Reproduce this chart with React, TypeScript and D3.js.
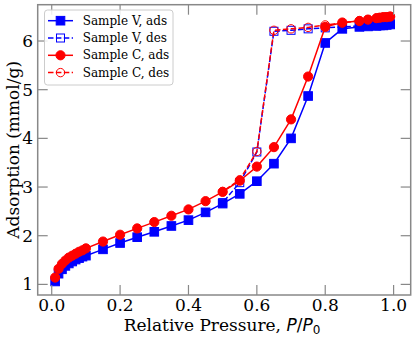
import React from "react";
import * as d3 from "d3";

// relative pressure points (adsorption branch)
const pAds = [0.01, 0.02, 0.03, 0.04, 0.05, 0.06, 0.07, 0.08, 0.09, 0.1, 0.15, 0.2, 0.25, 0.3, 0.35, 0.4, 0.45, 0.5, 0.55, 0.6, 0.65, 0.7, 0.75, 0.8, 0.85, 0.9, 0.925, 0.95, 0.96, 0.97, 0.98, 0.99];
const vAds = [1.06, 1.22, 1.31, 1.38, 1.43, 1.47, 1.51, 1.54, 1.57, 1.59, 1.72, 1.85, 1.97, 2.08, 2.2, 2.32, 2.48, 2.66, 2.86, 3.12, 3.48, 4.0, 4.87, 5.96, 6.25, 6.29, 6.3, 6.31, 6.32, 6.32, 6.33, 6.34];
const cAds = [1.14, 1.32, 1.42, 1.49, 1.55, 1.59, 1.63, 1.67, 1.7, 1.74, 1.88, 2.02, 2.15, 2.28, 2.41, 2.54, 2.71, 2.9, 3.13, 3.42, 3.82, 4.39, 5.27, 6.29, 6.38, 6.41, 6.44, 6.47, 6.48, 6.49, 6.49, 6.5];

// desorption branch
const pDes = [0.99, 0.98, 0.97, 0.96, 0.95, 0.925, 0.9, 0.85, 0.8, 0.75, 0.7, 0.65, 0.6, 0.55, 0.5];
const vDes = [6.36, 6.35, 6.34, 6.34, 6.33, 6.32, 6.31, 6.29, 6.27, 6.25, 6.22, 6.2, 3.72, 3.09, 2.68];
const cDes = [6.51, 6.5, 6.49, 6.48, 6.47, 6.44, 6.42, 6.37, 6.33, 6.28, 6.25, 6.22, 3.73, 3.15, 2.91];

const xTicks = [0, 0.2, 0.4, 0.6, 0.8, 1.0];
const yTicks = [1, 2, 3, 4, 5, 6];

const W = 415;
const H = 339;
const plot = { left: 37.7, right: 410.7, top: 4.7, bottom: 295 };
const serif = "'DejaVu Serif', serif";
const axisGray = "#888";

type Series = {
  label: string;
  xs: number[];
  ys: number[];
  color: string;
  marker: "square" | "circle";
  filled: boolean;
};

const series: Series[] = [
  { label: "Sample V, ads", xs: pAds, ys: vAds, color: "#0000ff", marker: "square", filled: true },
  { label: "Sample V, des", xs: pDes, ys: vDes, color: "#0000ff", marker: "square", filled: false },
  { label: "Sample C, ads", xs: pAds, ys: cAds, color: "#ff0000", marker: "circle", filled: true },
  { label: "Sample C, des", xs: pDes, ys: cDes, color: "#ff0000", marker: "circle", filled: false },
];

function Marker({ s, cx, cy }: { s: Series; cx: number; cy: number }) {
  const fill = s.filled ? s.color : "none";
  if (s.marker === "square") {
    const a = s.filled ? 8.6 : 8;
    return <rect x={cx - a / 2} y={cy - a / 2} width={a} height={a} fill={fill} stroke={s.color} strokeWidth={1} />;
  }
  return <circle cx={cx} cy={cy} r={s.filled ? 4.6 : 4.2} fill={fill} stroke={s.color} strokeWidth={1} />;
}

export default function App() {
  const x = d3.scaleLinear().domain([-0.041, 1.05]).range([plot.left, plot.right]);
  const y = d3.scaleLinear().domain([0.782, 6.746]).range([plot.bottom, plot.top]);
  const line = d3
    .line<[number, number]>()
    .x((d) => x(d[0]))
    .y((d) => y(d[1]));

  const tickLen = 10;

  return (
    <div style={{ position: "fixed", left: 0, top: 0 }}>
      <svg width={W} height={H} style={{ display: "block", background: "white" }}>
        <defs>
          <clipPath id="plotclip">
            <rect x={plot.left} y={plot.top} width={plot.right - plot.left} height={plot.bottom - plot.top} />
          </clipPath>
        </defs>

        {/* data */}
        <g clipPath="url(#plotclip)">
          {series.map((s) => {
            const pts = s.xs.map((v, i) => [v, s.ys[i]] as [number, number]);
            return (
              <g key={s.label}>
                <path
                  d={line(pts) || ""}
                  fill="none"
                  stroke={s.color}
                  strokeWidth={1.5}
                  strokeDasharray={s.filled ? undefined : "5.5,2.4"}
                />
                {pts.map((p, i) => (
                  <Marker key={i} s={s} cx={x(p[0])} cy={y(p[1])} />
                ))}
              </g>
            );
          })}
        </g>

        {/* ticks on all sides, inward */}
        <g stroke={axisGray} strokeWidth={1.2}>
          {xTicks.map((t) => (
            <g key={"x" + t}>
              <line x1={x(t)} x2={x(t)} y1={plot.bottom} y2={plot.bottom - tickLen} />
              <line x1={x(t)} x2={x(t)} y1={plot.top} y2={plot.top + tickLen} />
            </g>
          ))}
          {yTicks.map((t) => (
            <g key={"y" + t}>
              <line x1={plot.left} x2={plot.left + tickLen} y1={y(t)} y2={y(t)} />
              <line x1={plot.right} x2={plot.right - tickLen} y1={y(t)} y2={y(t)} />
            </g>
          ))}
        </g>

        {/* frame */}
        <rect
          x={plot.left}
          y={plot.top}
          width={plot.right - plot.left}
          height={plot.bottom - plot.top}
          fill="none"
          stroke={axisGray}
          strokeWidth={1.5}
        />

        {/* tick labels */}
        <g fontFamily={serif} fontSize={17} fill="#000">
          {xTicks.map((t) => (
            <text key={"xl" + t} x={x(t)} y={311} textAnchor="middle">
              {d3.format(".1f")(t)}
            </text>
          ))}
          {yTicks.map((t) => (
            <text key={"yl" + t} x={plot.left - 4.5} y={y(t)} textAnchor="end" dominantBaseline="central">
              {t}
            </text>
          ))}
        </g>

        {/* axis labels */}
        <text x={222} y={331} textAnchor="middle" fontFamily={serif} fontSize={17}>
          Relative Pressure,{" "}
          <tspan fontFamily="'DejaVu Sans', sans-serif" fontStyle="italic">P</tspan>
          <tspan fontFamily="'DejaVu Sans', sans-serif">/</tspan>
          <tspan fontFamily="'DejaVu Sans', sans-serif" fontStyle="italic">P</tspan>
          <tspan fontFamily="'DejaVu Sans', sans-serif" fontSize={12} dy={3}>0</tspan>
        </text>
        <text
          transform={`translate(19,${(plot.top + plot.bottom) / 2}) rotate(-90)`}
          textAnchor="middle"
          fontFamily={serif}
          fontSize={17}
        >
          Adsorption (mmol/g)
        </text>

        {/* legend */}
        <g>
          <rect x={44.5} y={10} width={128.5} height={75} rx={3} fill="white" fillOpacity={0.85} stroke="#ccc" strokeWidth={1} />
          {series.map((s, i) => {
            const cy = 20.7 + i * 17.3;
            return (
              <g key={"lg" + s.label}>
                <line
                  x1={48}
                  x2={73}
                  y1={cy}
                  y2={cy}
                  stroke={s.color}
                  strokeWidth={1.5}
                  strokeDasharray={s.filled ? undefined : "5.5,2.4"}
                />
                <Marker s={s} cx={60.5} cy={cy} />
                <text x={82.7} y={cy} dominantBaseline="central" fontFamily={serif} fontSize={12}>
                  {s.label}
                </text>
              </g>
            );
          })}
        </g>
      </svg>
    </div>
  );
}
